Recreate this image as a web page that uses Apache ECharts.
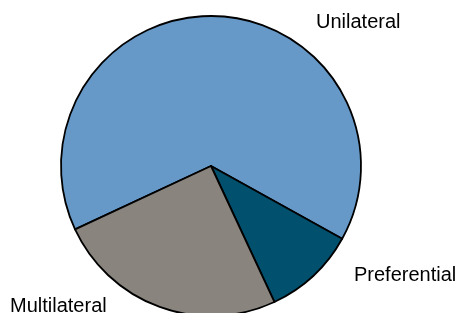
<!DOCTYPE html>
<html>
<head>
<meta charset="utf-8">
<script src="https://cdn.jsdelivr.net/npm/echarts@6/dist/echarts.min.js"></script>
<style>
  html, body { margin: 0; padding: 0; background: #fff; }
  #chart { width: 465px; height: 313px; }
</style>
</head>
<body>
<div id="chart"></div>
<script>
const categories = ['Unilateral', 'Preferential', 'Multilateral'];
const shares = [65, 10, 25];
const colors = ['#6699C8', '#00506E', '#89847D'];

// where each label sits (left edge, vertical middle)
const labelSpots = [[316, 22], [354, 275], [10, 306]];

const chart = echarts.init(document.getElementById('chart'));
chart.setOption({
  animation: false,
  series: [{
    type: 'pie',
    center: [211, 166],
    radius: 150,
    startAngle: 205,
    clockwise: true,
    data: categories.map((name, i) => ({
      name,
      value: shares[i],
      itemStyle: { color: colors[i] },
    })),
    itemStyle: { borderColor: '#000', borderWidth: 1.8 },
    label: {
      show: true,
      position: 'outside',
      formatter: '{b}',
      color: '#000',
      fontFamily: 'Liberation Sans, Arial, sans-serif',
      fontSize: 20,
      overflow: 'none',
    },
    labelLine: { show: false },
    labelLayout: p => ({
      x: labelSpots[p.dataIndex][0],
      y: labelSpots[p.dataIndex][1],
      align: 'left',
      verticalAlign: 'middle',
      width: 200,
    }),
    emphasis: { disabled: true },
  }],
});
</script>
</body>
</html>
